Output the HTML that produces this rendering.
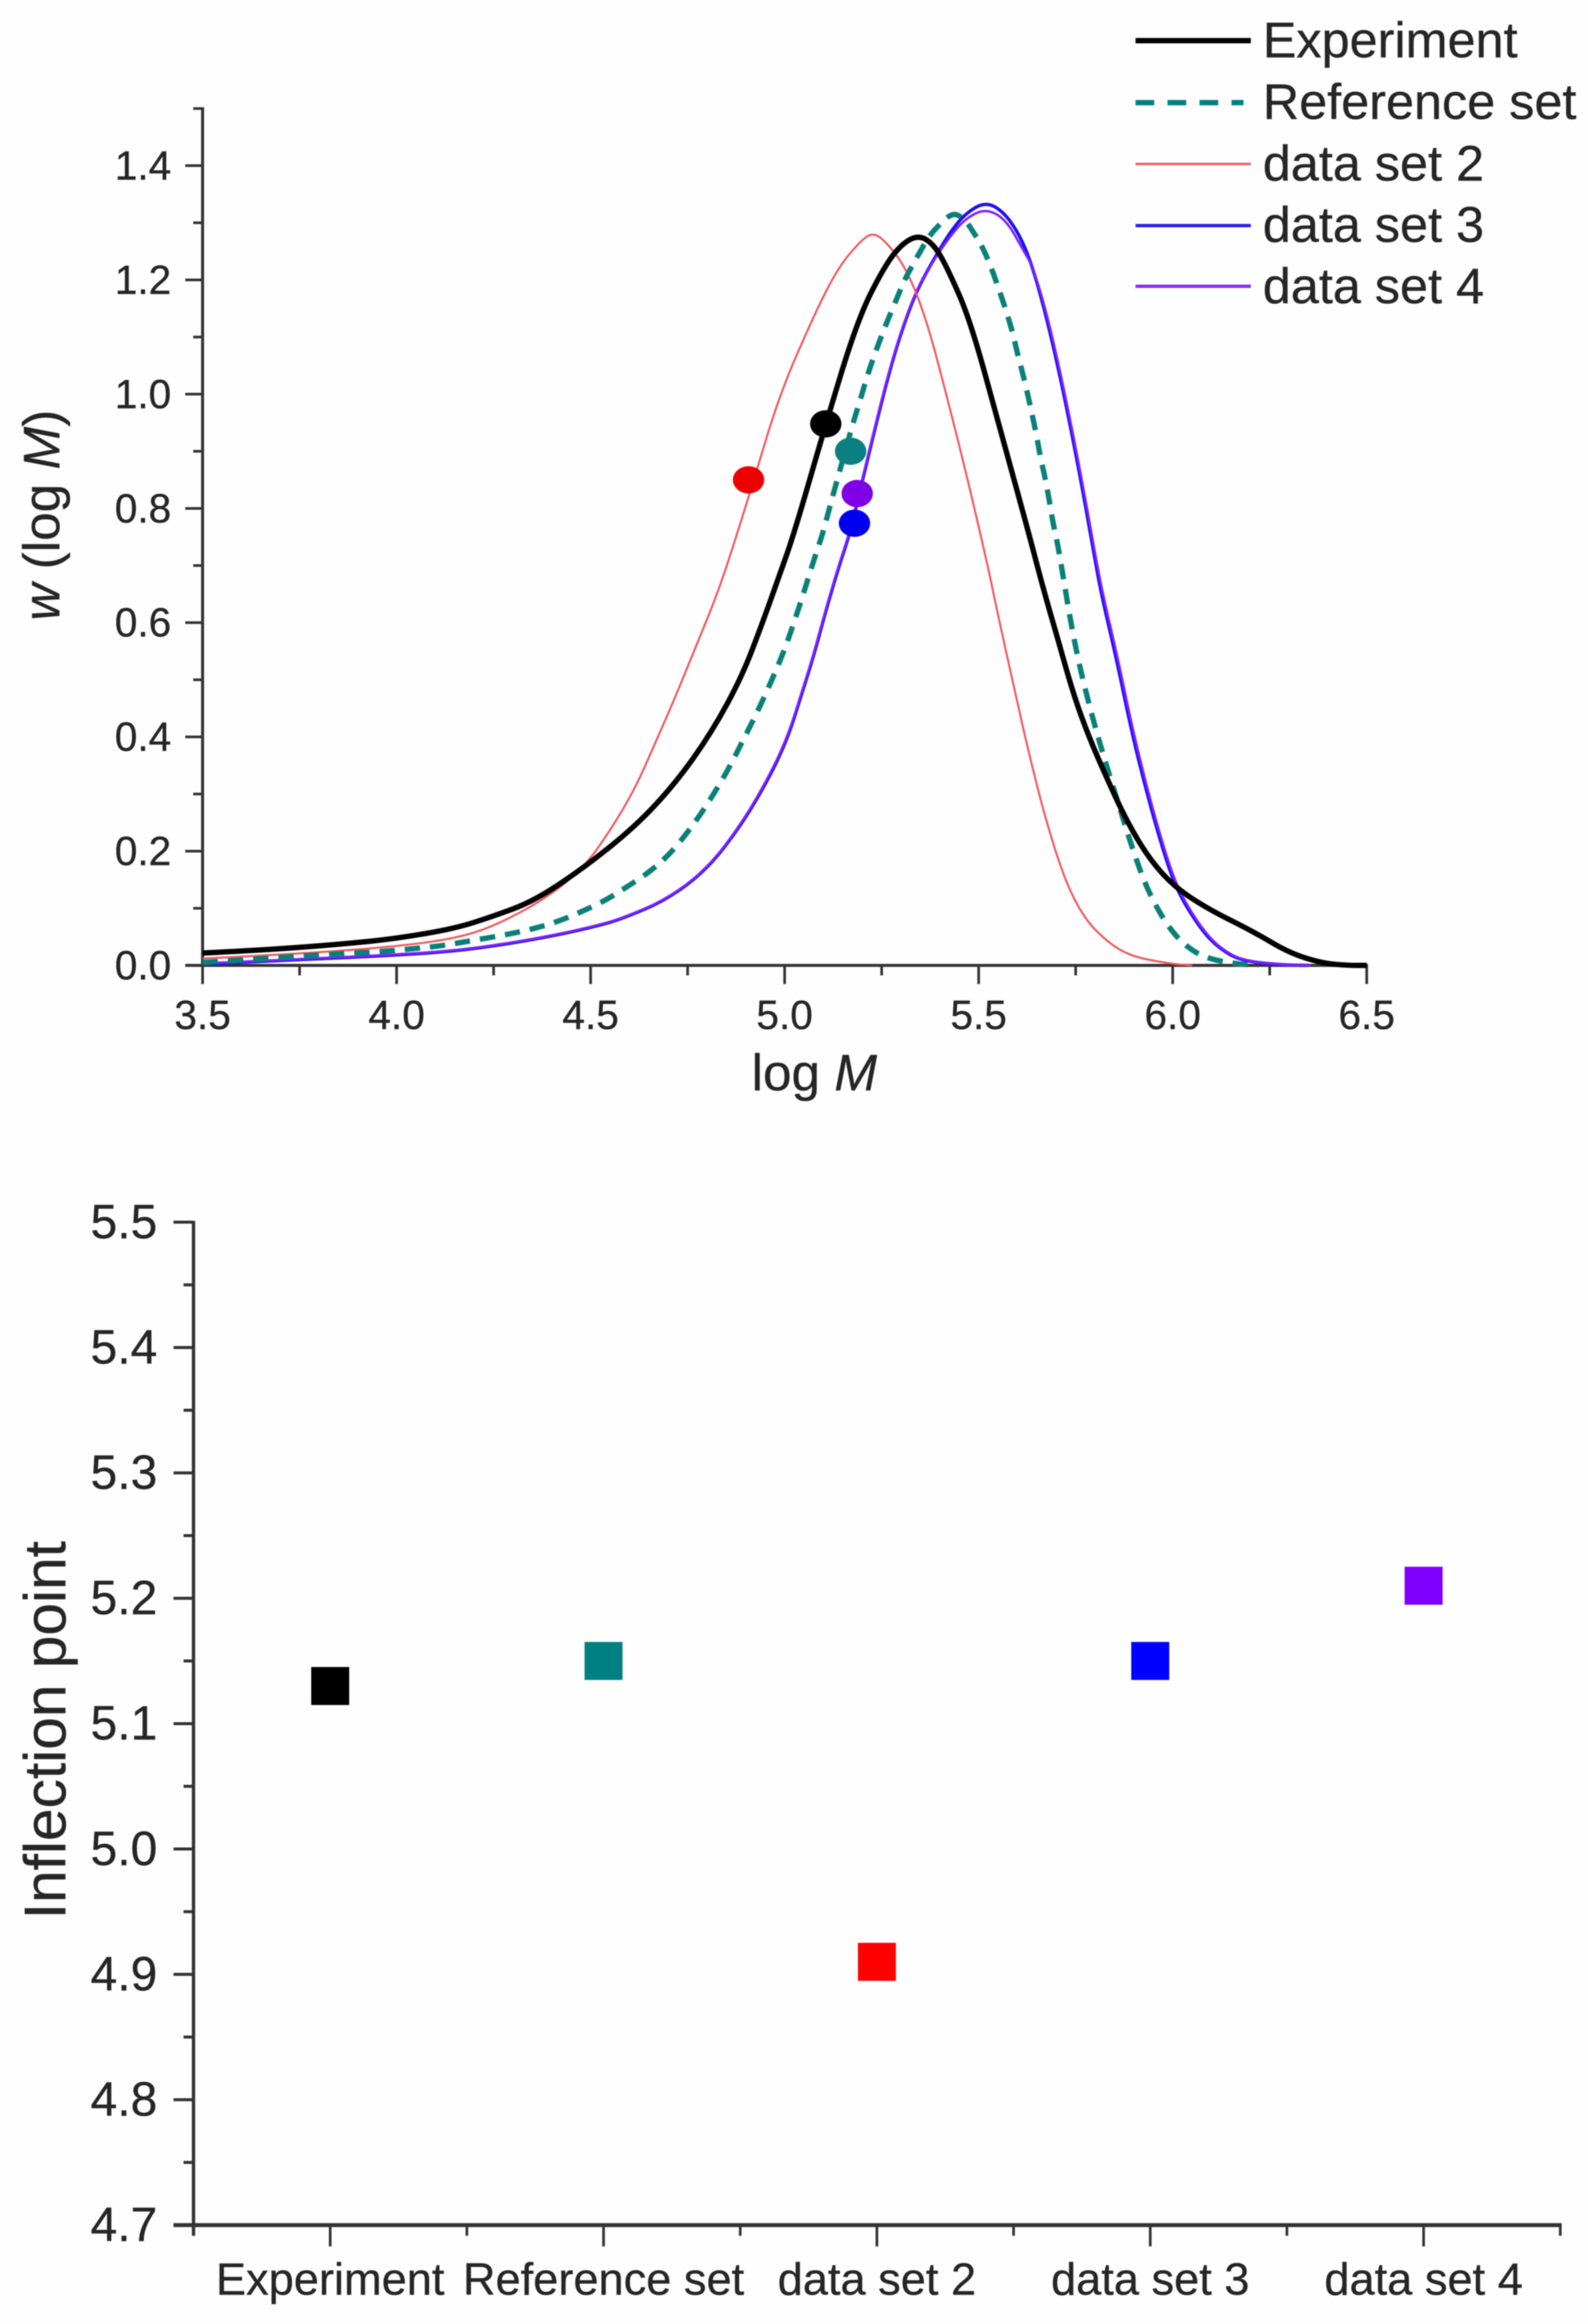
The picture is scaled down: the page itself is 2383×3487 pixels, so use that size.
<!DOCTYPE html>
<html lang="en">
<head>
<meta charset="utf-8">
<title>Molecular weight distribution and inflection points</title>
<style>
html,body{margin:0;padding:0;background:#fefefe;}
body{width:2383px;height:3487px;overflow:hidden;}
svg{display:block;position:absolute;left:0;top:0;filter:blur(0.9px);}
text{font-family:"Liberation Sans",sans-serif;fill:#262626;stroke:#262626;stroke-width:0.5px;}
</style>
</head>
<body>
<svg id="figure" xmlns="http://www.w3.org/2000/svg" width="2383" height="3487" viewBox="0 0 2383 3487">
  <g id="top-axes"></g>
  <g id="top-curves"></g>
  <g id="top-points"></g>
  <text x="1222" y="1636" font-size="77" text-anchor="middle">log <tspan font-style="italic">M</tspan></text>
  <text transform="translate(89,773) rotate(-90)" font-size="77" text-anchor="middle"><tspan font-style="italic">w</tspan> (log <tspan font-style="italic">M</tspan>)</text>
  <g>
    <line x1="1704" x2="1877" y1="61" y2="61" stroke="#000" stroke-width="8"/>
    <text x="1895" y="86" font-size="75.6">Experiment</text>
    <line x1="1704" x2="1866" y1="154" y2="154" stroke="#008080" stroke-width="8" stroke-dasharray="28 20"/>
    <text x="1895" y="178.5" font-size="75.6">Reference set</text>
    <line x1="1704" x2="1877" y1="246" y2="246" stroke="#f0585c" stroke-width="3.5"/>
    <text x="1895" y="271" font-size="75.6">data set 2</text>
    <line x1="1704" x2="1877" y1="338.5" y2="338.5" stroke="#2a20f0" stroke-width="5"/>
    <text x="1895" y="363" font-size="75.6">data set 3</text>
    <line x1="1704" x2="1877" y1="429.5" y2="429.5" stroke="#8030ff" stroke-width="5"/>
    <text x="1895" y="455" font-size="75.6">data set 4</text>
  </g>
  <g id="bottom-axes"></g>
  <g id="bottom-points"></g>
  <text transform="translate(98,2596) rotate(-90)" font-size="88" text-anchor="middle">Inflection point</text>
</svg>
<script>
// ---- Top chart data: w(log M) curves ----
const experimentLogM = [3.5,3.6,3.743,3.87,3.999,4.15,4.249,4.352,4.477,4.615,4.719,4.812,4.891,4.943,4.983,5.025,5.106,5.188,5.254,5.3,5.345,5.385,5.42,5.478,5.55,5.629,5.665,5.705,5.744,5.784,5.83,5.882,5.941,6.007,6.093,6.211,6.3,6.385,6.45,6.5];
const experimentW = [0.0216,0.025,0.031,0.038,0.047,0.0645,0.086,0.112,0.168,0.243,0.319,0.408,0.507,0.6,0.676,0.757,0.948,1.13,1.22,1.262,1.279,1.262,1.22,1.13,0.952,0.757,0.663,0.569,0.475,0.4,0.328,0.252,0.185,0.136,0.098,0.058,0.022,0.004,0,0];

const referenceLogM = [3.5,3.788,3.96,4.039,4.114,4.19,4.269,4.341,4.413,4.477,4.539,4.595,4.651,4.703,4.749,4.789,4.828,4.864,4.897,4.93,4.966,4.999,5.025,5.049,5.073,5.097,5.116,5.136,5.175,5.195,5.212,5.231,5.258,5.287,5.31,5.339,5.373,5.405,5.435,5.465,5.488,5.508,5.53,5.55,5.569,5.586,5.599,5.616,5.632,5.648,5.659,5.672,5.682,5.692,5.705,5.722,5.74,5.763,5.793,5.823,5.856,5.895,5.935,5.99,6.04,6.09,6.16,6.22];
const referenceW = [0.005,0.018,0.024,0.029,0.034,0.043,0.052,0.062,0.076,0.094,0.114,0.138,0.163,0.194,0.232,0.27,0.312,0.355,0.4,0.444,0.498,0.551,0.602,0.652,0.705,0.753,0.802,0.851,0.947,0.99,1.03,1.068,1.117,1.164,1.202,1.237,1.278,1.301,1.318,1.306,1.282,1.26,1.226,1.188,1.15,1.112,1.074,1.03,0.983,0.932,0.89,0.851,0.814,0.773,0.733,0.663,0.591,0.515,0.435,0.364,0.292,0.207,0.131,0.065,0.03,0.012,0.003,0];

const dataSet2LogM = [3.5,3.743,3.999,4.15,4.249,4.38,4.477,4.549,4.615,4.667,4.719,4.773,4.818,4.851,4.912,4.985,5.07,5.136,5.195,5.227,5.26,5.314,5.366,5.418,5.472,5.524,5.547,5.593,5.632,5.672,5.718,5.757,5.803,5.879,5.99,6.05];
const dataSet2W = [0.012,0.02,0.033,0.047,0.068,0.115,0.167,0.234,0.31,0.39,0.471,0.561,0.636,0.699,0.83,0.996,1.13,1.22,1.268,1.283,1.268,1.22,1.13,0.996,0.85,0.698,0.622,0.48,0.364,0.257,0.158,0.1,0.058,0.018,0.003,0];

const dataSet3LogM = [3.5,3.756,3.999,4.15,4.281,4.413,4.523,4.582,4.694,4.799,4.891,4.963,5.009,5.042,5.075,5.107,5.14,5.166,5.202,5.234,5.267,5.3,5.339,5.386,5.425,5.465,5.517,5.563,5.603,5.636,5.668,5.701,5.734,5.767,5.796,5.816,5.856,5.889,5.922,5.961,6.0,6.033,6.079,6.12,6.173,6.27,6.35];
const dataSet3W = [0.0025,0.01,0.018,0.025,0.037,0.053,0.07,0.082,0.114,0.167,0.248,0.332,0.4,0.471,0.542,0.623,0.699,0.751,0.853,0.943,1.032,1.108,1.18,1.238,1.282,1.316,1.337,1.32,1.282,1.229,1.153,1.059,0.952,0.836,0.725,0.65,0.534,0.426,0.332,0.234,0.15,0.105,0.058,0.03,0.009,0.001,0];

const dataSet4LogM = [3.5,3.756,3.999,4.15,4.281,4.413,4.523,4.582,4.694,4.799,4.891,4.963,5.009,5.042,5.075,5.107,5.14,5.166,5.202,5.234,5.267,5.3,5.339,5.386,5.425,5.465,5.517,5.569,5.616,5.64,5.671,5.704,5.737,5.77,5.799,5.82,5.86,5.893,5.926,5.965,6.004,6.037,6.083,6.124,6.177,6.275,6.355];
const dataSet4W = [0.003,0.011,0.019,0.026,0.038,0.054,0.071,0.083,0.115,0.168,0.25,0.335,0.403,0.474,0.545,0.626,0.702,0.754,0.856,0.946,1.035,1.11,1.182,1.236,1.275,1.307,1.325,1.307,1.251,1.222,1.153,1.059,0.952,0.836,0.725,0.65,0.534,0.426,0.332,0.234,0.15,0.105,0.058,0.03,0.009,0.001,0];

const inflectionLogM = [5.106,5.17,4.907,5.18,5.187];
const inflectionW = [0.948,0.90,0.85,0.774,0.826];
const seriesNames = ['experiment','reference-set','data-set-2','data-set-3','data-set-4'];
const markerColors = ['#000000','#0a8080','#ee0000','#0000ee','#7f00e6'];

const xMajorTicks = ['3.5','4.0','4.5','5.0','5.5','6.0','6.5'];
const xMinorTicks = [3.75,4.25,4.75,5.25,5.75,6.25];
const yMajorTicks = ['0.0','0.2','0.4','0.6','0.8','1.0','1.2','1.4'];
const yMinorTicks = [0.1,0.3,0.5,0.7,0.9,1.1,1.3,1.5];

// ---- Bottom chart data ----
const categories = ['Experiment','Reference set','data set 2','data set 3','data set 4'];
const inflectionPoints = [5.13,5.15,4.91,5.15,5.21];
const inflectionTicks = ['4.7','4.8','4.9','5.0','5.1','5.2','5.3','5.4','5.5'];
const inflectionMinorTicks = [4.75,4.85,4.95,5.05,5.15,5.25,5.35,5.45];
const squareColors = ['#000000','#008080','#ff0000','#0000ff','#8000ff'];

// ---- Axis functions ----
const xTop = v => 304 + (v - 3.5) * 582.3;
const yTop = v => 1448.5 - v * 857.1;
const xBottom = i => 495.5 + i * 410.2;
const yBottom = v => 3338.6 - (v - 4.7) * 1881;

const NS = 'http://www.w3.org/2000/svg';
function mk(tag, parent, attrs) {
  const el = document.createElementNS(NS, tag);
  for (const k in attrs) el.setAttribute(k, attrs[k]);
  parent.appendChild(el);
  return el;
}
// Quadratic spline through segment midpoints: removes reading noise without kinks.
function smoothPath(xs, ys) {
  const px = xs.map(xTop), py = ys.map(yTop);
  let d = 'M' + px[0].toFixed(1) + ' ' + py[0].toFixed(1);
  for (let i = 1; i < px.length - 1; i++) {
    const mx = (px[i] + px[i + 1]) / 2, my = (py[i] + py[i + 1]) / 2;
    d += 'Q' + [px[i], py[i], mx, my].map(n => n.toFixed(1)).join(' ');
  }
  d += 'L' + px[px.length - 1].toFixed(1) + ' ' + py[py.length - 1].toFixed(1);
  return d;
}

// ---- Top chart axes ----
const topAxes = document.getElementById('top-axes');
const topYAxis = mk('line', topAxes, {x1: 304, x2: 304, y1: yTop(1.5) - 2, y2: yTop(0) + 2, stroke: '#333', 'stroke-width': 4.5});


const topXAxis = mk('line', topAxes, {x1: xTop(3.5) - 26, x2: xTop(6.5) + 2, y1: yTop(0), y2: yTop(0), stroke: '#333', 'stroke-width': 4.5});



yMajorTicks.forEach(label => {
  const v = parseFloat(label);
  const tick = mk('line', topAxes, {x1: 278, x2: 304, y1: yTop(v), y2: yTop(v), stroke: '#333', 'stroke-width': 4});
  
  
  const text = mk('text', topAxes, {x: 257, y: yTop(v) + 21, 'font-size': 61, 'text-anchor': 'end'});
  text.textContent = label;
  
  
});
yMinorTicks.forEach(v => {
  const tick = mk('line', topAxes, {x1: 290, x2: 304, y1: yTop(v), y2: yTop(v), stroke: '#333', 'stroke-width': 4});
  
  
});
xMajorTicks.forEach(label => {
  const v = parseFloat(label);
  const tick = mk('line', topAxes, {x1: xTop(v), x2: xTop(v), y1: yTop(0), y2: yTop(0) + 28, stroke: '#333', 'stroke-width': 4});
  
  
  const text = mk('text', topAxes, {x: xTop(v), y: 1544, 'font-size': 61, 'text-anchor': 'middle'});
  text.textContent = label;
  
  
});
xMinorTicks.forEach(v => {
  const tick = mk('line', topAxes, {x1: xTop(v), x2: xTop(v), y1: yTop(0), y2: yTop(0) + 15, stroke: '#333', 'stroke-width': 4});
  
  
});

// ---- Top chart curves ----
const curveGroup = document.getElementById('top-curves');
const curve3 = mk('path', curveGroup, {d: smoothPath(dataSet3LogM, dataSet3W), fill: 'none', stroke: '#1c10f5', 'stroke-width': 5});


const curve4 = mk('path', curveGroup, {d: smoothPath(dataSet4LogM, dataSet4W), fill: 'none', stroke: '#8020ff', 'stroke-width': 3.5});


const curve2 = mk('path', curveGroup, {d: smoothPath(dataSet2LogM, dataSet2W), fill: 'none', stroke: '#f2565c', 'stroke-width': 3});


const curveRef = mk('path', curveGroup, {d: smoothPath(referenceLogM, referenceW), fill: 'none', stroke: '#0a8078', 'stroke-width': 8, 'stroke-dasharray': '23 15'});


const curveExp = mk('path', curveGroup, {d: smoothPath(experimentLogM, experimentW), fill: 'none', stroke: '#000', 'stroke-width': 8});



// ---- Top chart inflection markers ----
const markerGroup = document.getElementById('top-points');
inflectionLogM.forEach((v, i) => {
  const m = mk('ellipse', markerGroup, {cx: xTop(v), cy: yTop(inflectionW[i]), rx: 23.5, ry: 20.5, fill: markerColors[i]});
  
  
});

// ---- Bottom chart axes ----
const bottomAxes = document.getElementById('bottom-axes');
const bottomYAxis = mk('line', bottomAxes, {x1: xBottom(-0.5), x2: xBottom(-0.5), y1: yBottom(5.5) - 2, y2: yBottom(4.7) + 16, stroke: '#333', 'stroke-width': 5});


const bottomXAxis = mk('line', bottomAxes, {x1: xBottom(-0.5) - 30, x2: xBottom(4.5) + 2, y1: yBottom(4.7), y2: yBottom(4.7), stroke: '#333', 'stroke-width': 6});



inflectionTicks.forEach(label => {
  const v = parseFloat(label);
  const tick = mk('line', bottomAxes, {x1: xBottom(-0.5) - 30, x2: xBottom(-0.5), y1: yBottom(v), y2: yBottom(v), stroke: '#333', 'stroke-width': 4.5});
  
  
  const text = mk('text', bottomAxes, {x: 236, y: yBottom(v) + 24, 'font-size': 72, 'text-anchor': 'end'});
  text.textContent = label;
  
  
});
inflectionMinorTicks.forEach(v => {
  const tick = mk('line', bottomAxes, {x1: xBottom(-0.5) - 15, x2: xBottom(-0.5), y1: yBottom(v), y2: yBottom(v), stroke: '#333', 'stroke-width': 4.5});
  
  
});
categories.forEach((label, i) => {
  const tick = mk('line', bottomAxes, {x1: xBottom(i), x2: xBottom(i), y1: yBottom(4.7), y2: yBottom(4.7) + 32, stroke: '#333', 'stroke-width': 4});
  
  
  const text = mk('text', bottomAxes, {x: xBottom(i), y: 3443, 'font-size': 67.8, 'text-anchor': 'middle'});
  text.textContent = label;
  
  
  const minor = mk('line', bottomAxes, {x1: xBottom(i + 0.5), x2: xBottom(i + 0.5), y1: yBottom(4.7), y2: yBottom(4.7) + 16, stroke: '#333', 'stroke-width': 4});
  
  
});

// ---- Bottom chart points ----
const squareGroup = document.getElementById('bottom-points');
inflectionPoints.forEach((v, i) => {
  const s = mk('rect', squareGroup, {x: xBottom(i) - 28.5, y: yBottom(v) - 28.5, width: 57, height: 57, fill: squareColors[i]});
  
  
});
</script>
</body>
</html>
